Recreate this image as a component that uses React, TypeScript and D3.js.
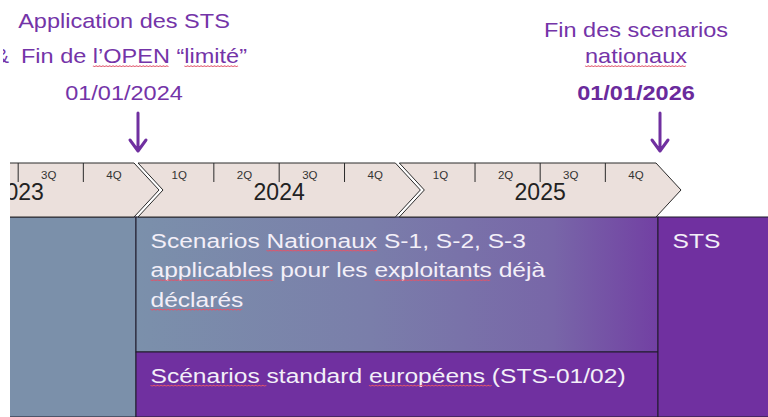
import React, { useRef, useEffect } from 'react';
import * as d3 from 'd3';

// timeline data
const years = [2023, 2024, 2025];
const quarters = ['1Q', '2Q', '3Q', '4Q'];

// milestones above the timeline; ~word~ = spell-check underline
const milestoneDates = [new Date(2024, 0, 1), new Date(2026, 0, 1)];
const milestoneLines = [
  ['Application des STS', 'Fin de ~l’OPEN~ “~limité~”', '01/01/2024'],
  ['Fin des scenarios', '~nationaux~', '01/01/2026'],
];
const milestoneBaselines = [
  [28, 63, 100],
  [37, 63, 100],
];

// phases below the timeline
const phaseStarts = [new Date(2023, 0, 1), new Date(2024, 0, 1), new Date(2024, 0, 1), new Date(2026, 0, 1)];
const phaseEnds = [new Date(2024, 0, 1), new Date(2026, 0, 1), new Date(2026, 0, 1), new Date(2027, 0, 1)];
const phaseRows = ['full', 'top', 'bottom', 'full'];
const phaseLabels = [
  [],
  ['Scenarios ~Nationaux~ S-1, S-2, S-3', '~applicables~ pour les ~exploitants~ déjà', '~déclarés ~'],
  ['~Scénarios ~standard ~européens ~(STS-01/02)'],
  ['STS'],
];

const W = 768;
const H = 417;
const clipX = 10;
const tlTop = 163;
const tlBottom = 217;
const tlMid = (tlTop + tlBottom) / 2;
const depth = 25;
const gap = 2;
const purple = '#7030A0';
const font = '"Liberation Sans", Arial, Helvetica, sans-serif';

const x = d3
  .scaleTime()
  .domain([new Date(2024, 0, 1), new Date(2026, 0, 1)])
  .range([136, 658]);

const y = d3.scaleLinear().domain([0, 1]).range([tlBottom, H]);
const rows: Record<string, [number, number]> = {
  full: [0, 1],
  top: [0, 0.675],
  bottom: [0.675, 1],
};

const parts = (s: string) =>
  s.split('~').map((t, i) => (
    <tspan key={i} className={i % 2 === 1 ? 'u' : undefined}>
      {t}
    </tspan>
  ));

const App = () => {
  const ref = useRef<SVGSVGElement | null>(null);

  useEffect(() => {
    if (!ref.current) return;
    const svg = d3.select(ref.current);
    svg.selectAll('.uline').remove();
    svg.selectAll<SVGTSpanElement, unknown>('tspan.u').each(function () {
      const b = this.getBBox();
      const g = this.parentNode?.parentNode as SVGGElement;
      const pts: [number, number][] = [];
      for (let px = b.x; px <= b.x + b.width; px += 1.5) {
        pts.push([px, 3 + (Math.round((px - b.x) / 1.5) % 2 ? 0.6 : -0.2)]);
      }
      d3.select(g)
        .append('path')
        .attr('class', 'uline')
        .attr('d', d3.line()(pts))
        .attr('fill', 'none')
        .attr('stroke', '#e0566c')
        .attr('stroke-width', 0.9);
    });
  }, []);

  return (
    <svg
      ref={ref}
      width={W}
      height={H}
      style={{ position: 'absolute', left: 0, top: 0, fontFamily: font, background: '#fff' }}
    >
      <defs>
        <clipPath id="clip">
          <rect x={clipX} y={0} width={W - clipX} height={H} />
        </clipPath>
        <clipPath id="clipAmp">
          <rect x={3} y={0} width={20} height={80} />
        </clipPath>
        <linearGradient id="natGrad" x1="0" x2="1" y1="0" y2="0">
          <stop offset="0" stopColor="#7b90ab" />
          <stop offset="0.45" stopColor="#7a7eaa" />
          <stop offset="0.8" stopColor="#7866a8" />
          <stop offset="1" stopColor="#7240a3" />
        </linearGradient>
      </defs>

      {/* milestones */}
      {milestoneDates.map((d, i) => {
        const cx = x(d) + 2;
        const tx = i === 0 ? 124 : 636;
        return (
          <g key={i}>
            {milestoneLines[i].map((line, j) => {
              const bold = i === 1 && j === 2;
              const leftStart = i === 0 && j === 1;
              return (
                <g key={j} transform={`translate(${leftStart ? 21 : tx},${milestoneBaselines[i][j]}) scale(1.12,1)`}>
                  <text
                    textAnchor={leftStart ? 'start' : 'middle'}
                    fontSize={21}
                    fontWeight={bold ? 'bold' : 'normal'}
                    fill={bold ? '#6a2a9c' : '#7434a8'}
                  >
                    {parts(line)}
                  </text>
                </g>
              );
            })}
            <path
              d={`M${cx},113 L${cx},150 M${cx - 8},140 L${cx},151 L${cx + 8},140`}
              fill="none"
              stroke={purple}
              strokeWidth={3}
              strokeLinecap="round"
              strokeLinejoin="round"
            />
          </g>
        );
      })}
      {/* glyph cut by the left edge */}
      <g clipPath="url(#clipAmp)">
        <text x={9} y={63} textAnchor="end" fontSize={21} fill="#7434a8">&amp;</text>
      </g>

      <g clipPath="url(#clip)">
        {/* phases */}
        {phaseStarts.map((s, i) => {
          const x0 = x(s);
          const x1 = Math.min(x(phaseEnds[i]), W + 2);
          const [r0, r1] = rows[phaseRows[i]];
          const fill = i === 1 ? 'url(#natGrad)' : i === 0 ? '#7b90aa' : '#7030a0';
          return (
            <g key={i}>
              <rect
                x={x0}
                y={y(r0)}
                width={x1 - x0}
                height={y(r1) - y(r0)}
                fill={fill}
                stroke="#1e1a2a"
                strokeWidth={1}
              />
              {phaseLabels[i].map((line, j) => (
                <g key={j} transform={`translate(${x0 + 14.5},${y(r0) + 30.5 + j * 29.5}) scale(1.17,1)`}>
                  <text fontSize={21} fill="#f3eff8">
                    {parts(line)}
                  </text>
                </g>
              ))}
            </g>
          );
        })}

        {/* timeline chevrons */}
        {years.map((yr) => {
          const x0 = x(new Date(yr, 0, 1));
          const x1 = x(new Date(yr + 1, 0, 1));
          const band = d3
            .scaleBand<string>()
            .domain(quarters)
            .range([x0 + depth / 2, x1 + depth / 2]);
          const pts = [
            [x0 + gap, tlTop],
            [x1 - gap, tlTop],
            [x1 - gap + depth, tlMid],
            [x1 - gap, tlBottom],
            [x0 + gap, tlBottom],
            [x0 + gap + depth, tlMid],
          ];
          return (
            <g key={yr}>
              <polygon points={pts.map((p) => p.join(',')).join(' ')} fill="#ebe0dc" stroke="#2a2a2a" strokeWidth={1} />
              {quarters.slice(1).map((q) => (
                <line
                  key={q}
                  x1={band(q)}
                  x2={band(q)}
                  y1={tlTop}
                  y2={tlTop + 19}
                  stroke="#2a2a2a"
                  strokeWidth={1}
                />
              ))}
              {quarters.map((q) => (
                <text
                  key={q}
                  x={(band(q) ?? 0) + band.bandwidth() / 2 - 2}
                  y={179}
                  textAnchor="middle"
                  fontSize={11.5}
                  fill="#333"
                >
                  {q}
                </text>
              ))}
              <text x={(x0 + x1) / 2 + depth / 2} y={200} textAnchor="middle" fontSize={23} fill="#222">
                {yr}
              </text>
            </g>
          );
        })}
      </g>
    </svg>
  );
};

export default App;
